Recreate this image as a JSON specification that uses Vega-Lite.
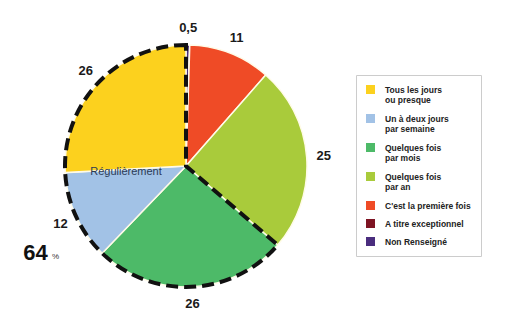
{
  "$schema": "https://vega.github.io/schema/vega-lite/v6.json",
  "width": 356,
  "height": 312,
  "autosize": "none",
  "padding": {"left": 8, "top": 10, "right": 162, "bottom": 3},
  "background": "#ffffff",
  "config": {"view": {"stroke": null}, "font": "Liberation Sans"},
  "layer": [
    {
      "data": {"name": "pie", "values": [
        {"cat": "Non Renseigné", "v": 0.5, "o": 1, "label": "0,5"},
        {"cat": "A titre exceptionnel", "v": 0, "o": 2, "label": ""},
        {"cat": "C'est la première fois", "v": 11, "o": 3, "label": "11"},
        {"cat": "Quelques fois par an", "v": 25, "o": 4, "label": "25"},
        {"cat": "Quelques fois par mois", "v": 26, "o": 5, "label": "26"},
        {"cat": "Un à deux jours par semaine", "v": 12, "o": 6, "label": "12"},
        {"cat": "Tous les jours ou presque", "v": 26, "o": 7, "label": "26"}
      ]},
      "layer": [
        {
          "mark": {"type": "arc", "radius": 121, "stroke": "#fffbe8", "strokeWidth": 1.5},
          "encoding": {
            "theta": {"field": "v", "type": "quantitative", "stack": true},
            "order": {"field": "o", "type": "quantitative"},
            "color": {
              "field": "cat", "type": "nominal",
              "scale": {
                "domain": ["Tous les jours ou presque", "Un à deux jours par semaine", "Quelques fois par mois", "Quelques fois par an", "C'est la première fois", "A titre exceptionnel", "Non Renseigné"],
                "range": ["#fcd11e", "#a2c2e6", "#4dba68", "#a9cb3b", "#ef4b26", "#7e1423", "#4a2d7e"]
              },
              "legend": {
                "title": null,
                "orient": "none",
                "legendX": 348,
                "legendY": 65,
                "padding": 10,
                "fillColor": "#ffffff",
                "strokeColor": "#cccccc",
                "symbolType": "square",
                "symbolSize": 81,
                "symbolStrokeWidth": 0,
                "labelFont": "Liberation Sans",
                "labelFontSize": 8.5,
                "labelFontWeight": "bold",
                "labelColor": "#222222",
                "labelLineHeight": 10,
                "labelLimit": 200,
                "rowPadding": 9,
                "labelOffset": 10,
                "labelExpr": "datum.label === 'Tous les jours ou presque' ? ['Tous les jours', 'ou presque'] : datum.label === 'Un à deux jours par semaine' ? ['Un à deux jours', 'par semaine'] : datum.label === 'Quelques fois par mois' ? ['Quelques fois', 'par mois'] : datum.label === 'Quelques fois par an' ? ['Quelques fois', 'par an'] : datum.label"
              }
            }
          }
        },
        {
          "mark": {"type": "text", "font": "Liberation Sans", "fontSize": 13, "fontWeight": "bold", "color": "#1a1a1a"},
          "encoding": {
            "theta": {"field": "v", "type": "quantitative", "stack": true},
            "radius": {"condition": {"test": "datum.o == 1", "value": 150}, "value": 138},
            "order": {"field": "o", "type": "quantitative"},
            "text": {"field": "label"}
          }
        }
      ]
    },
    {
      "data": {"name": "groups", "values": [
        {"g": "autre", "v": 36.5, "o": 1, "name": "", "pct": ""},
        {"g": "reg", "v": 64, "o": 2, "name": "Régulièrement", "pct": "64"}
      ]},
      "layer": [
        {
          "mark": {"type": "arc", "radius": 121, "fillOpacity": 0, "fill": "#ffffff", "stroke": "#111111", "strokeWidth": 4, "strokeDash": [12, 6]},
          "encoding": {
            "theta": {"field": "v", "type": "quantitative", "stack": true},
            "order": {"field": "o", "type": "quantitative"},
            "strokeOpacity": {"condition": {"test": "datum.g === 'reg'", "value": 1}, "value": 0}
          }
        },
        {
          "mark": {"type": "text", "radius": 66, "font": "Liberation Sans", "fontSize": 11, "color": "#2b3a55", "dy": -22},
          "encoding": {
            "theta": {"field": "v", "type": "quantitative", "stack": true},
            "order": {"field": "o", "type": "quantitative"},
            "text": {"field": "name"}
          }
        },
        {
          "mark": {"type": "text", "radius": 170, "font": "Liberation Sans", "fontSize": 22, "fontWeight": "bold", "color": "#111111", "dx": 4, "dy": 16},
          "encoding": {
            "theta": {"field": "v", "type": "quantitative", "stack": true},
            "order": {"field": "o", "type": "quantitative"},
            "text": {"field": "pct"}
          }
        },
        {
          "mark": {"type": "text", "radius": 170, "font": "Liberation Sans", "fontSize": 8, "color": "#333333", "dx": 24, "dy": 20},
          "encoding": {
            "theta": {"field": "v", "type": "quantitative", "stack": true},
            "order": {"field": "o", "type": "quantitative"},
            "text": {"condition": {"test": "datum.g === 'reg'", "value": "%"}, "value": ""}
          }
        }
      ]
    }
  ]
}
